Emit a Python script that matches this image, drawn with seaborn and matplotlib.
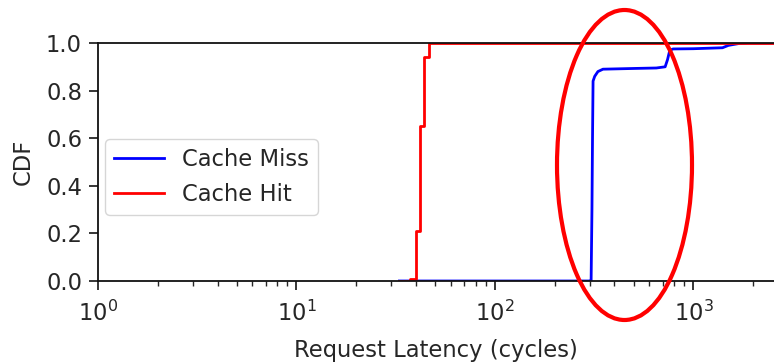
import matplotlib
matplotlib.use("Agg")
import matplotlib.pyplot as plt
from matplotlib.patches import Ellipse
import seaborn as sns
import pandas as pd

# Cache Hit CDF step points (latency in cycles, CDF)
hit_latency = [33, 37.5, 40, 42, 44, 46.5, 2600]
hit_cdf = [0.0, 0.01, 0.21, 0.65, 0.94, 1.0, 1.0]

# Cache Miss CDF points
miss_latency = [33, 300, 305, 308, 310, 312, 318, 330, 350, 500, 650, 720, 740,
                760, 790, 1000, 1400, 1500, 1700, 1900, 2600]
miss_cdf = [0.0, 0.0, 0.0, 0.3, 0.6, 0.84, 0.86, 0.88, 0.89, 0.893, 0.895, 0.90,
            0.93, 0.97, 0.975, 0.976, 0.98, 0.99, 0.998, 1.0, 1.0]

series_names = ["Cache Miss", "Cache Hit"]
series_colors = ["blue", "red"]

FS = 16.3
TXT = "#262626"
plt.rcParams['font.family'] = ['DejaVu Sans']
plt.rcParams['font.size'] = FS
plt.rcParams['text.color'] = TXT
plt.rcParams['axes.labelcolor'] = TXT
plt.rcParams['xtick.color'] = TXT
plt.rcParams['ytick.color'] = TXT

fig = plt.figure(figsize=(7.74, 3.63), dpi=100)
ax = fig.add_axes([98/774, 82/363, 1 - 98/774, 238/363])

miss_df = pd.DataFrame({"lat": miss_latency, "cdf": miss_cdf})
hit_df = pd.DataFrame({"lat": hit_latency, "cdf": hit_cdf})

sns.lineplot(data=miss_df, x="lat", y="cdf", ax=ax, color=series_colors[0],
             label=series_names[0], linewidth=2.0, estimator=None, sort=False)
sns.lineplot(data=hit_df, x="lat", y="cdf", ax=ax, color=series_colors[1],
             label=series_names[1], linewidth=2.0, estimator=None, sort=False,
             drawstyle="steps-post")

ax.set_xscale("log")
ax.set_xlim(1, 2545)
ax.set_ylim(0, 1.0)
ax.set_yticks([0, 0.2, 0.4, 0.6, 0.8, 1.0])
ax.set_xlabel("Request Latency (cycles)", fontsize=FS, labelpad=9)
ax.set_ylabel("CDF", fontsize=FS, labelpad=8)
ax.tick_params(axis="both", which="major", labelsize=FS, length=6.5, width=1.3, pad=5)
ax.tick_params(axis="x", which="major", pad=8)
ax.tick_params(axis="both", which="minor", length=3.8, width=1.0)
ax.spines["right"].set_visible(False)
for s in ["left", "bottom", "top"]:
    ax.spines[s].set_linewidth(1.3)
    ax.spines[s].set_color("#111111")

leg = ax.legend(loc="center left", bbox_to_anchor=(0.0104, 0.437), borderaxespad=0,
                fontsize=FS, handlelength=2.2, framealpha=0.8, borderpad=0.4,
                labelspacing=0.5)

ell = Ellipse((624.5/774, 1 - 165/363), 135/774, 310/363, transform=fig.transFigure,
              fill=False, edgecolor="red", linewidth=3.0, clip_on=False)
fig.patches.append(ell)

fig.savefig("out.png", dpi=100)
